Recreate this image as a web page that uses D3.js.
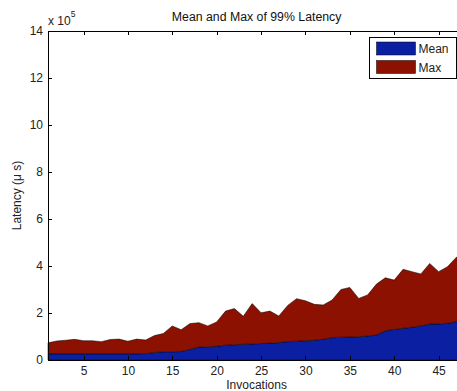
<!DOCTYPE html>
<html>
<head>
<meta charset="utf-8">
<script src="https://cdn.jsdelivr.net/npm/d3@7"></script>
<style>
  html, body { margin: 0; padding: 0; background: #fff; }
  svg { display: block; font-family: "Liberation Sans", Arial, Helvetica, sans-serif; }
  .axis text { font-size: 12px; fill: #222; }
  .axis path, .axis line { stroke: #000; stroke-width: 1; shape-rendering: crispEdges; }
</style>
</head>
<body>
<svg id="chart" width="457" height="391"></svg>
<script>
// Invocation index (x) and per-invocation 99% latency, in units of 1e5 µs
const invocations = d3.range(1, 49);
const meanLatency = [
  0.26, 0.26, 0.26, 0.26, 0.26, 0.26, 0.26, 0.26, 0.26, 0.26,
  0.26, 0.27, 0.32, 0.35, 0.35, 0.36, 0.45, 0.55, 0.56, 0.58,
  0.63, 0.65, 0.67, 0.68, 0.70, 0.72, 0.74, 0.78, 0.80, 0.82,
  0.84, 0.88, 0.95, 0.97, 0.98, 0.99, 1.02, 1.06, 1.24, 1.30,
  1.35, 1.39, 1.45, 1.53, 1.53, 1.56, 1.63, 1.65
];
const maxLatency = [
  0.47, 0.55, 0.58, 0.62, 0.56, 0.56, 0.52, 0.61, 0.63, 0.54,
  0.63, 0.58, 0.72, 0.78, 1.10, 0.93, 1.10, 1.04, 0.89, 1.04,
  1.45, 1.54, 1.19, 1.72, 1.31, 1.36, 1.13, 1.54, 1.81, 1.70,
  1.53, 1.46, 1.60, 2.03, 2.11, 1.63, 1.75, 2.17, 2.26, 2.10,
  2.51, 2.37, 2.21, 2.58, 2.23, 2.41, 2.74, 2.85
];
const seriesNames = ["Mean", "Max"];
const seriesColors = ["#0b1fa3", "#8c1100"];
const yTicks = d3.range(0, 15, 2);
const xTicks = d3.range(5, 50, 5);

const rows = invocations.map((x, i) => ({ x, Mean: meanLatency[i], Max: maxLatency[i] }));

const svg = d3.select("#chart");
const plotLeft = 48, plotTop = 31, plotBottom = 360;
const unit = 8.877;
const plotRight = plotLeft + (invocations[invocations.length - 1] - 1) * unit;

const x = d3.scaleLinear().domain([1, 48]).range([plotLeft, plotRight]);
const y = d3.scaleLinear().domain([0, 14]).range([plotBottom, plotTop]);

// Stacked areas (Mean at the bottom, Max stacked above)
const stacked = d3.stack().keys(seriesNames)(rows);
const area = d3.area()
  .x(d => x(d.data.x))
  .y0(d => y(d[0]))
  .y1(d => y(d[1]));

svg.append("g")
  .selectAll("path")
  .data(stacked)
  .join("path")
  .attr("d", area)
  .attr("fill", (d, i) => seriesColors[i])
  .attr("stroke", "#000")
  .attr("stroke-width", 0.5)
  .attr("stroke-linejoin", "round");

// Box axes with inward ticks
svg.append("g").attr("class", "axis")
  .attr("transform", `translate(0,${plotBottom})`)
  .call(d3.axisBottom(x).tickValues(xTicks).tickSizeInner(-4).tickSizeOuter(0).tickPadding(6.5));
svg.append("g").attr("class", "axis")
  .attr("transform", `translate(0,${plotTop})`)
  .call(d3.axisTop(x).tickValues(xTicks).tickSizeInner(-4).tickSizeOuter(0).tickFormat(""));
svg.append("g").attr("class", "axis")
  .attr("transform", `translate(${plotLeft},0)`)
  .call(d3.axisLeft(y).tickValues(yTicks).tickSizeInner(-4).tickSizeOuter(0).tickPadding(5));
svg.append("g").attr("class", "axis")
  .attr("transform", `translate(${plotRight},0)`)
  .call(d3.axisRight(y).tickValues(yTicks).tickSizeInner(-4).tickSizeOuter(0).tickFormat(""));

// Exponent label
const expo = svg.append("text")
  .attr("x", plotLeft).attr("y", 25)
  .attr("font-size", 12).attr("fill", "#222");
expo.append("tspan").text("x 10");
expo.append("tspan").attr("dy", -8).attr("font-size", 8.5).text("5");

// Title
svg.append("text")
  .attr("x", (plotLeft + plotRight) / 2).attr("y", 21)
  .attr("text-anchor", "middle")
  .attr("font-size", 12.3).attr("fill", "#111")
  .text("Mean and Max of 99% Latency");

// Axis labels
svg.append("text")
  .attr("x", (plotLeft + plotRight) / 2).attr("y", 389)
  .attr("text-anchor", "middle")
  .attr("font-size", 12).attr("fill", "#222")
  .text("Invocations");

svg.append("text")
  .attr("transform", `translate(21,${(plotTop + plotBottom) / 2}) rotate(-90)`)
  .attr("text-anchor", "middle")
  .attr("font-size", 12).attr("fill", "#222")
  .text("Latency (\u03bc s)");

// Legend
const legend = svg.append("g").attr("transform", "translate(369.5,37.5)");
legend.append("rect")
  .attr("width", 87).attr("height", 41)
  .attr("fill", "#fff").attr("stroke", "#000").attr("stroke-width", 1);
seriesNames.forEach((name, i) => {
  const g = legend.append("g").attr("transform", `translate(7,${4.5 + i * 18.5})`);
  g.append("rect")
    .attr("width", 39).attr("height", 13)
    .attr("fill", seriesColors[i]).attr("stroke", "#000").attr("stroke-width", 0.5);
  g.append("text")
    .attr("x", 42).attr("y", 11)
    .attr("font-size", 12).attr("fill", "#222")
    .text(name);
});
</script>
</body>
</html>
